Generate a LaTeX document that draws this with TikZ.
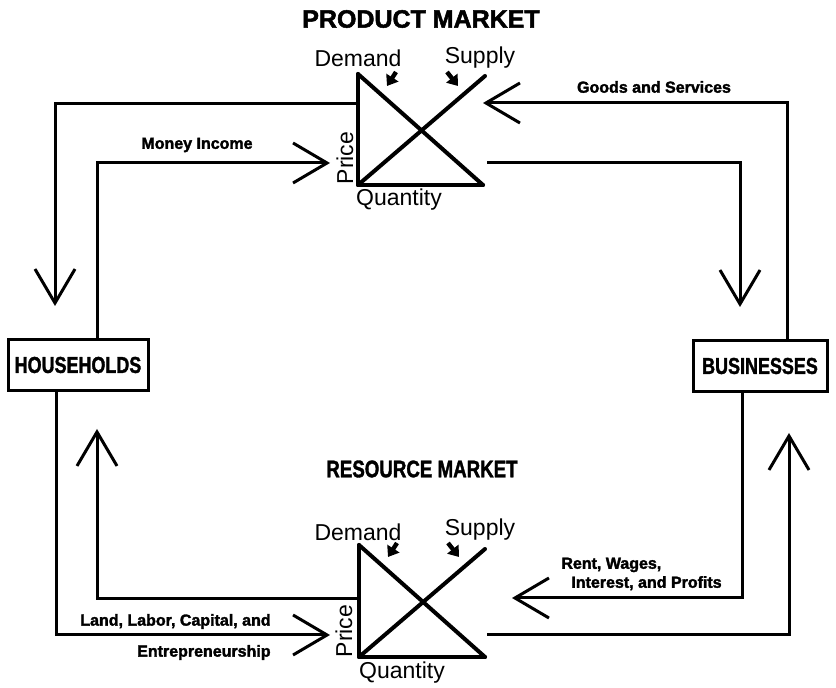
\documentclass[tikz,border=0pt]{standalone}
\usepackage{fontspec}
\setmainfont{Liberation Sans}
\newfontfamily\narrowfont[FakeStretch=0.78,FakeBold=1.5]{Liberation Sans}
\newfontfamily\heavyfont[FakeBold=2]{Liberation Sans}
\usepackage{tikz}
\usetikzlibrary{arrows.meta,calc,positioning}
\tikzset{sector/.style={rectangle, draw=black, line width=1.5pt, minimum height=25.5pt, inner sep=0pt, font=\narrowfont\bfseries\fontsize{11.5}{12}\selectfont},
market/.style={inner sep=0pt, font=\heavyfont\bfseries\fontsize{12.5}{14}\selectfont},
flowlabel/.style={inner sep=0pt, font=\heavyfont\bfseries\fontsize{8}{9.5}\selectfont},
curvelabel/.style={inner sep=0pt, font=\fontsize{11.5}{13}\selectfont},
axis/.style={line width=2pt, line cap=round, line join=round},
flow/.style={line width=1.5pt, -{Straight Barb[length=17pt,width=20pt]}},
pointer/.style={line width=2.2pt, -{Triangle[length=5pt,width=7pt]}}}

\begin{document}
\begin{tikzpicture}[x=0.5pt, y=-0.5pt]
\useasboundingbox (0,0) rectangle (836,688);

% titles
\node (pm-title) [market] at (421,19) {PRODUCT MARKET};
\node (rm-title) [market, font=\narrowfont\bfseries\fontsize{12}{14}\selectfont] at (422,469) {RESOURCE MARKET};

% product market
\begin{scope}[shift={(358,185)}]
\draw [axis] (0,-111) -- (0,0) -- (125,0);
\draw [axis] (0,-111) -- (125,0);
\draw [axis] (0,0) -- (127,-109);
\node (pm-d) [curvelabel] at (0,-127) {Demand};
\node (pm-s) [curvelabel] at (122,-127) {Supply};
\node (pm-p) [curvelabel, rotate=90] at (-13,-27) {Price};
\node (pm-q) [curvelabel] at (41,15) {Quantity};
\draw [pointer] (38,-113) -- (29,-99);
\draw [pointer] (89,-113) -- (100,-99);
\coordinate (pm-axis) at (0,-81);
\coordinate (pm-buy) at (-28,-22);
\coordinate (pm-sell) at (125,-82);
\coordinate (pm-out) at (129,-22);
\end{scope}

% resource market
\begin{scope}[shift={(359,657)}]
\draw [axis] (0,-112) -- (0,0) -- (126,0);
\draw [axis] (0,-112) -- (126,0);
\draw [axis] (0,0) -- (126,-108);
\node (rm-d) [curvelabel] at (-1,-125) {Demand};
\node (rm-s) [curvelabel] at (121,-127) {Supply};
\node (rm-p) [curvelabel, rotate=90] at (-15,-26) {Price};
\node (rm-q) [curvelabel] at (43,16) {Quantity};
\draw [pointer] (38,-114) -- (29,-100);
\draw [pointer] (89,-114) -- (100,-100);
\coordinate (rm-axis) at (0,-58);
\coordinate (rm-buy) at (-29,-22);
\coordinate (rm-sell) at (153,-59);
\coordinate (rm-out) at (128,-22);
\end{scope}

% sectors
\node (hh) [sector, minimum width=70pt] at (78,365) {HOUSEHOLDS};
\node (bz) [sector, minimum width=67pt] at (760,366) {BUSINESSES};

% flows
\draw [flow] (pm-axis) -| ($(hh.north)+(-23,-32)$);
\draw [flow] ($(hh.north)+(19,0)$) |- (pm-buy);
\draw [flow] ($(bz.north)+(27,0)$) |- (pm-sell);
\draw [flow] (pm-out) -| ($(bz.north)+(-20,-32)$);
\draw [flow] ($(bz.south)+(-18,0)$) |- (rm-sell);
\draw [flow] (rm-out) -| ($(bz.south)+(29,40)$);
\draw [flow] (rm-axis) -| ($(hh.south)+(19,37)$);
\draw [flow] ($(hh.south)+(-22,0)$) |- (rm-buy);

% flow labels
\node (money) [flowlabel] at (197,145) {Money Income};
\node (goods) [flowlabel] at (654,87) {Goods and Services};
\node (factors) [flowlabel, anchor=east, align=right] at (271,637) {Land, Labor, Capital, and\\[6pt]Entrepreneurship};
\node (income) [flowlabel, anchor=west, align=left] at (561,574) {Rent, Wages,\\\hspace{5pt}Interest, and Profits};
\end{tikzpicture}
\end{document}
